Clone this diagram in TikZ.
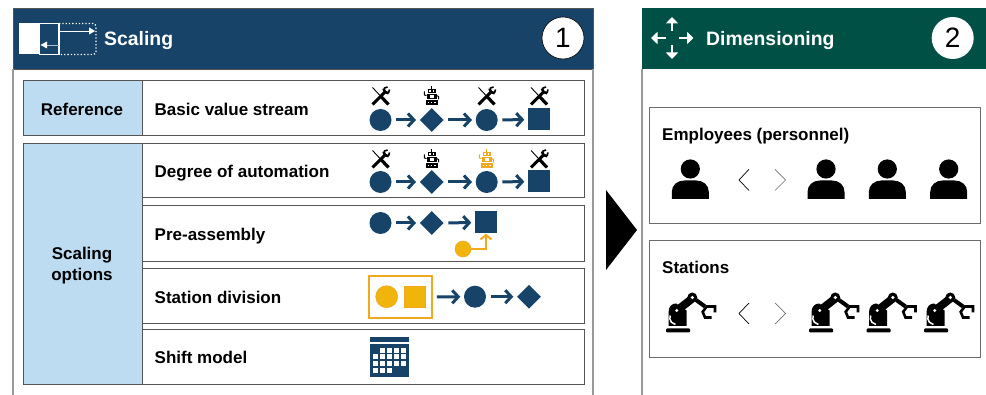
\documentclass[tikz,border=0pt]{standalone}
\usepackage{fontspec}
\setmainfont{Liberation Sans}
\usetikzlibrary{arrows.meta,shapes.geometric}
\definecolor{navy}{HTML}{164367}
\definecolor{pine}{HTML}{005046}
\definecolor{paleblue}{HTML}{BDDCF1}
\definecolor{amber}{HTML}{F0B40C}
\definecolor{amberline}{HTML}{F0A81E}
\definecolor{edge}{HTML}{555555}
\definecolor{panelline}{HTML}{9A9A9A}
\tikzset{
  x=1pt,y=-1pt,
  box/.style={draw=edge,line width=1pt,fill=white,inner sep=0pt,outer sep=0pt,anchor=north west},
  blue box/.style={box,fill=paleblue},
  header/.style={inner sep=0pt,outer sep=0pt,anchor=north west},
  title/.style={font=\bfseries\fontsize{19.4}{23}\selectfont,text=white,anchor=west,inner sep=0pt,text height=14pt,text depth=0pt},
  label/.style={font=\bfseries\fontsize{17}{21}\selectfont,anchor=west,inner sep=0pt,text height=12.4pt,text depth=0pt},
  num/.style={circle,fill=white,draw=black,line width=.6pt,minimum size=42pt,inner sep=0pt,font=\fontsize{28}{28}\selectfont},
  stepcircle/.style={circle,fill=navy,minimum size=22pt,inner sep=0pt},
  stepdiamond/.style={diamond,aspect=1,fill=navy,minimum size=24pt,inner sep=0pt},
  stepsquare/.style={rectangle,fill=navy,minimum size=22pt,inner sep=0pt},
  ambercircle/.style={circle,fill=amber,draw=amberline,line width=.5pt,minimum size=22pt,inner sep=0pt},
  ambersquare/.style={rectangle,fill=amber,draw=amberline,line width=.5pt,minimum size=21.5pt,inner sep=0pt},
  flow/.style={draw=navy,line width=3pt,-{Straight Barb[length=6pt,width=13pt,line width=3pt]},shorten <=4.5pt,shorten >=3.5pt},
  whitearrow/.style={draw=white,line width=2.6pt,-{Triangle[length=6.5pt,width=12pt]}},
  person/.pic={
    \fill (0,-30) circle[radius=9.6];
    \fill (-18.5,0) -- (-18.5,-7) .. controls (-18.5,-14) and (-13,-18.5) .. (-6,-18.5)
      -- (6,-18.5) .. controls (13,-18.5) and (18.5,-14) .. (18.5,-7) -- (18.5,0) -- cycle;
  },
  robotarm/.pic={
    \fill[rounded corners=1pt] (0,-4) rectangle (24,0);
    \fill (2.5,-6.5) -- (2.5,-20) .. controls (2.5,-26) and (6,-29) .. (10,-29) -- (20.5,-22) -- (20.5,-6.5) -- cycle;
    \draw[white,line width=1.5pt] (4.2,-17) arc[start angle=200,end angle=100,radius=6.8];
    \draw[black,line width=8pt] (11,-22) -- (26.3,-34);
    \fill[white] (10.8,-22) circle[radius=1.6];
    \fill[black] (26.3,-35) circle[radius=5];
    \fill[white] (26.3,-35) circle[radius=1.8];
    \draw[black,line width=4pt] (30,-32.5) -- (39,-26);
    \draw[black,line width=2.6pt] (49,-20) -- (49,-26) -- (40.7,-26) -- (36.7,-20.7) -- (39,-15) -- (45.7,-15);
  },
  toolicon/.pic={
    \draw[black,line width=.9pt] (-8,-8.5) -- (0,0);
    \draw[black,line width=3.2pt] (0,0) -- (8,8.5);
    \draw[black,line width=3pt] (-8,8.5) -- (5,-4.5);
    \draw[black,line width=2.6pt] (3,-7.5) -- (4.5,-4) -- (8.2,-2.8);
    \draw[black,line width=1.6pt] (3.5,-7.8) -- (7,-9);
    \draw[black,line width=1.6pt] (8,-3) -- (9,-6.5);
  },
  pics/robotic/.style={code={
    \fill[#1] (-.7,-10) rectangle (.7,-7.5);
    \fill[#1] (-4,-7.5) rectangle (4,-3);
    \fill[white] (-2.5,-6.2) rectangle (-1,-4.6);
    \fill[white] (1,-6.2) rectangle (2.5,-4.6);
    \fill[#1] (-5,-2.5) rectangle (5,3);
    \fill[white] (-2,-1) rectangle (2,1.4);
    \draw[#1,line width=1pt] (-5,-1) -- (-7,-1.5) -- (-7.2,-5);
    \draw[#1,line width=1pt] (5,-1) -- (7,0) -- (7,3);
    \fill[#1] (-5.5,3.8) rectangle (6,9);
    \fill[white] (-4,5.6) rectangle (-2.6,7);
    \fill[white] (-.7,5.6) rectangle (.7,7);
    \fill[white] (2.6,5.6) rectangle (4,7);
  }},
}
\begin{document}
\begin{tikzpicture}
\useasboundingbox (0,0) rectangle (986,395);
\fill[white] (0,0) rectangle (986,395);

% ---------- left panel
\node[header,fill=navy,draw=edge,line width=.6pt,minimum width=580pt,minimum height=61pt] (head1) at (13,8) {};
\coordinate (p1bl) at (13,395);
\coordinate (p1br) at (593,395);
\draw[panelline,line width=1.4pt] (head1.south west) -- (p1bl);
\draw[panelline,line width=1.4pt] (head1.south east) -- (p1br);

% scaling icon
\fill[white] (18.5,23.5) rectangle (39.5,54.5);
\draw[white,line width=1.2pt] (39.5,23.5) rectangle (59,54.5);
\draw[white,line width=1.3pt,dotted,rounded corners=3pt] (59,23.5) -- (96,23.5) -- (96,54.5) -- (59,54.5);
\coordinate (sa1) at (59,31);
\coordinate (sa2) at (95,31);
\coordinate (sa3) at (58.5,45);
\coordinate (sa4) at (40.5,45);
\draw[white,line width=.9pt,-{Triangle[length=6pt,width=7pt]}] (sa1) -- (sa2);
\draw[white!65!navy,line width=.9pt] (sa3) -- (47,45);
\fill[white] (40.5,45) -- (47,41.5) -- (47,48.5) -- cycle;

\node[title] (t1) at (104,39) {Scaling};
\node[num] (n1) at (563,38) {1};

% table frames
\node[blue box,minimum width=119pt,minimum height=55pt] (refcell) at (23,81) {};
\node[box,minimum width=442pt,minimum height=55pt] (refrow) at (142,81) {};
\node[blue box,minimum width=119pt,minimum height=241pt] (optcell) at (23,143.5) {};
\node[box,minimum width=442pt,minimum height=54.5pt] (row1) at (142,143.5) {};
\node[box,minimum width=442pt,minimum height=55.5pt] (row2) at (142,206) {};
\node[box,minimum width=442pt,minimum height=55pt] (row3) at (142,269) {};
\node[box,minimum width=442pt,minimum height=55pt] (row4) at (142,329.5) {};

\node[label,anchor=center] (lref) at (82,109) {Reference};
\node[anchor=center,align=center,inner sep=0pt,font=\bfseries\fontsize{17}{21}\selectfont] (lopt) at (82,265.5) {Scaling\\options};
\node[label] (l0) at (154.5,109) {Basic value stream};
\node[label] (l1) at (154.5,171) {Degree of automation};
\node[label] (l2) at (154.5,234) {Pre-assembly};
\node[label] (l3) at (154.5,297) {Station division};
\node[label] (l4) at (154.5,357) {Shift model};

% row: basic value stream
\node[stepcircle] (a1) at (380.5,120) {};
\node[stepdiamond] (a2) at (431.7,120) {};
\node[stepcircle] (a3) at (486.7,120) {};
\node[stepsquare] (a4) at (539,119.5) {};
\draw[flow] (a1) -- (a2);
\draw[flow] (a2) -- (a3);
\draw[flow] (a3) -- (a4);
\pic at (380.5,96) {toolicon};
\pic at (431.5,96.5) {robotic=black};
\pic at (486.5,96) {toolicon};
\pic at (539,96) {toolicon};

% row: degree of automation
\node[stepcircle] (b1) at (380.5,182) {};
\node[stepdiamond] (b2) at (431.7,182) {};
\node[stepcircle] (b3) at (486.7,182) {};
\node[stepsquare] (b4) at (539,181.5) {};
\draw[flow] (b1) -- (b2);
\draw[flow] (b2) -- (b3);
\draw[flow] (b3) -- (b4);
\pic at (380.5,159) {toolicon};
\pic at (431.5,159.5) {robotic=black};
\pic at (486.5,159.5) {robotic=amberline};
\pic at (539,159) {toolicon};

% row: pre-assembly
\node[stepcircle] (c1) at (380.5,223) {};
\node[stepdiamond] (c2) at (431.7,223) {};
\node[stepsquare] (c3) at (486,222.5) {};
\node[circle,fill=amber,draw=amberline,line width=.5pt,minimum size=16pt,inner sep=0pt] (c4) at (463,249) {};
\draw[flow] (c1) -- (c2);
\draw[flow] (c2) -- (c3);
\draw[amberline,line width=2pt,-{Straight Barb[length=4.5pt,width=11pt,line width=2pt]}] (c4.east) -| (c3.south);

% row: station division
\node[draw=amberline,line width=2pt,fill=white,minimum width=63.5pt,minimum height=42.5pt,inner sep=0pt] (d0) at (400.7,297) {};
\node[ambercircle] (d1) at (386.7,296.7) {};
\node[ambersquare] (d2) at (414.7,296.7) {};
\node[stepcircle] (d3) at (475,296.7) {};
\node[stepdiamond] (d4) at (529,296.7) {};
\draw[flow,shorten <=3.5pt] (d0) -- (d3);
\draw[flow] (d3) -- (d4);

% row: shift model (calendar)
\fill[navy] (369.5,337) rectangle (408.6,342.3);
\fill[navy] (369.5,344.3) rectangle (408.6,376.7);
\foreach \r/\cols in {0/{1,2,3,4},1/{0,1,2,3,4},2/{0,1,2,3,4},3/{0,1,2}}{
  \foreach \c in \cols{
    \fill[white] ({372.7+\c*7},{347.7+\r*6.8}) rectangle +(5,5);
  }
}

% big arrow head between panels
\fill[black] (606,190) -- (637,230) -- (606,270) -- cycle;

% ---------- right panel
\node[header,fill=pine,minimum width=344pt,minimum height=61pt] (head2) at (642,8) {};
\coordinate (p2bl) at (642,395);
\draw[panelline,line width=1.4pt] (head2.south west) -- (p2bl);

\coordinate (dc) at (672,38);
\draw[whitearrow] (672,31) -- (672,17);
\draw[whitearrow] (672,45) -- (672,59);
\draw[whitearrow] (666,38) -- (651,38);
\draw[whitearrow] (679,38) -- (693.5,38);

\node[title] (t2) at (706,39) {Dimensioning};
\node[num,draw=none] (n2) at (952.7,38) {2};

\node[box,draw=panelline!70!black,minimum width=331pt,minimum height=116pt] (emp) at (649.3,107.6) {};
\node[box,draw=panelline!70!black,minimum width=331pt,minimum height=116.5pt] (sta) at (649.3,240.7) {};
\node[label] (l5) at (662,134) {Employees (personnel)};
\node[label] (l6) at (662,267) {Stations};

\pic at (690.3,199) {person};
\pic at (826,199) {person};
\pic at (887.3,199) {person};
\pic at (948.7,199) {person};
\draw[black,line width=.7pt] (749,169.3) -- (739,180) -- (749,190.5);
\draw[black!55,line width=.7pt] (775,169.3) -- (785.5,180) -- (775,190.5);

\pic at (666,332.5) {robotarm};
\pic at (809,332.5) {robotarm};
\pic at (866.5,332.5) {robotarm};
\pic at (924,332.5) {robotarm};
\draw[black,line width=.7pt] (749,303) -- (739,313.5) -- (749,324);
\draw[black!55,line width=.7pt] (775,303) -- (785.5,313.5) -- (775,324);
\end{tikzpicture}
\end{document}
